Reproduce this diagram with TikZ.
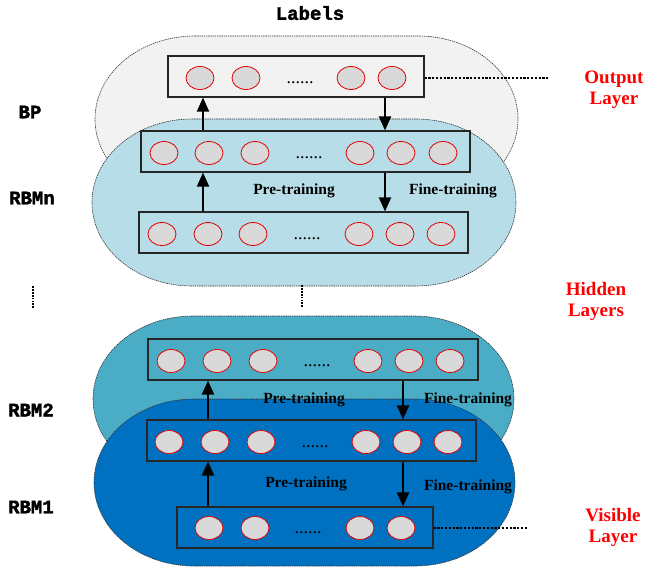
\documentclass[tikz,border=0pt]{standalone}
\usepackage{fontspec}
\setmainfont{Liberation Serif}
\setmonofont{Liberation Mono}[BoldFeatures={FakeBold=2}]
\usetikzlibrary{arrows.meta,shapes.geometric}
\definecolor{bpgray}{HTML}{F2F2F2}
\definecolor{rbmn}{HTML}{B7DDE8}
\definecolor{rbmtwo}{HTML}{4BACC6}
\definecolor{rbmone}{HTML}{0070C0}
\definecolor{cellfill}{HTML}{D9D9D9}
\definecolor{cellred}{HTML}{E00000}
\newcommand\myblob[5]{%
  \filldraw[blobline, fill=#5] (#1+100,#3) -- (#2-100,#3)
    arc[start angle=-90,end angle=90,x radius=100,y radius={(#4-#3)/2}]
    -- (#1+100,#4)
    arc[start angle=90,end angle=270,x radius=100,y radius={(#4-#3)/2}]
    -- cycle;}
\begin{document}
\begin{tikzpicture}[x=1pt,y=-1pt,
  blobline/.style={draw=black!80, line width=0.6pt, dash pattern=on 1.4pt off 0.8pt},
  layerbox/.style={draw=black!85, line width=1.1pt, rectangle, minimum height=41pt, inner sep=0pt},
  cell/.style={ellipse, draw=cellred, line width=0.8pt, fill=cellfill, minimum width=28pt, minimum height=23pt, inner sep=0pt},
  dotstxt/.style={font=\fontsize{18}{18}\selectfont, inner sep=0pt, yshift=-5pt},
  arr/.style={line width=2pt, -{Triangle[length=14pt,width=12pt]}},
  trainlbl/.style={font=\fontsize{15.5}{15.5}\bfseries\selectfont, inner sep=0pt},
  sidelbl/.style={font=\fontsize{19}{19}\ttfamily\bfseries\selectfont, inner sep=0pt},
  redlbl/.style={font=\fontsize{19}{21}\bfseries\selectfont, text=red, align=center, inner sep=0pt},
  leader/.style={line width=1.2pt, dash pattern=on 2.2pt off 1.6pt},
  vdots/.style={line width=2.4pt, dash pattern=on 1.8pt off 1.1pt}
]
\useasboundingbox (0,0) rectangle (648,568);
% blobs
\myblob{95}{518}{36}{202}{bpgray}
\myblob{92}{516}{119}{286}{rbmn}
\myblob{93}{514}{316}{482}{rbmtwo}
\myblob{94}{515}{399}{566}{rbmone}
% boxes
\node[layerbox, minimum width=256pt] (out) at (296,76.5) {};
\node[layerbox, minimum width=329pt] (ntop) at (305.5,151.5) {};
\node[layerbox, minimum width=329pt] (nbot) at (303.5,232.5) {};
\node[layerbox, minimum width=330pt] (htwo) at (313,359.5) {};
\node[layerbox, minimum width=329pt] (hone) at (311.5,440.5) {};
\node[layerbox, minimum width=256pt] (vis) at (305,527.5) {};
% cells
\foreach \x [count=\i] in {200,246,351,392} \node[cell] (o\i) at (\x,78) {};
\node[dotstxt] (od) at (300,78) {......};
\foreach \x [count=\i] in {164,209,255,360,401,443} \node[cell] (a\i) at (\x,153) {};
\node[dotstxt] (ad) at (309,153) {......};
\foreach \x [count=\i] in {162,208,253,359,400,441} \node[cell] (b\i) at (\x,234) {};
\node[dotstxt] (bd) at (307,234) {......};
\foreach \x [count=\i] in {171,217,263,368,409,450} \node[cell] (c\i) at (\x,361) {};
\node[dotstxt] (cd) at (317,361) {......};
\foreach \x [count=\i] in {169,215,261,366,407,448} \node[cell] (d\i) at (\x,442) {};
\node[dotstxt] (dd) at (315,442) {......};
\foreach \x [count=\i] in {209,255,360,401} \node[cell] (e\i) at (\x,528) {};
\node[dotstxt] (ed) at (308,528) {......};
% arrows
\draw[arr] ([xshift=-102.5pt]ntop.north) -- ([xshift=-93pt]out.south);
\draw[arr] ([xshift=89pt]out.south) -- ([xshift=79.5pt]ntop.north);
\draw[arr] ([xshift=-100.5pt]nbot.north) -- ([xshift=-102.5pt]ntop.south);
\draw[arr] ([xshift=79.5pt]ntop.south) -- ([xshift=81.5pt]nbot.north);
\draw[arr] ([xshift=-103.5pt]hone.north) -- ([xshift=-105pt]htwo.south);
\draw[arr] ([xshift=90pt]htwo.south) -- ([xshift=91.5pt]hone.north);
\draw[arr] ([xshift=-97pt]vis.north) -- ([xshift=-103.5pt]hone.south);
\draw[arr] ([xshift=91.5pt]hone.south) -- ([xshift=98pt]vis.north);
% training labels
\node[trainlbl] (p1) at (294,191) {Pre-training};
\node[trainlbl] (f1) at (453,191) {Fine-training};
\node[trainlbl] (p2) at (304,400) {Pre-training};
\node[trainlbl] (f2) at (468,400) {Fine-training};
\node[trainlbl] (p3) at (306,484) {Pre-training};
\node[trainlbl] (f3) at (468,487) {Fine-training};
% leaders
\coordinate (outend) at (549,78);
\coordinate (visend) at (527,528);
\draw[leader] (out.east |- o1) -- (outend);
\draw[leader] (vis.east |- e1) -- (visend);
\coordinate (vt1) at (302,285);
\coordinate (vb1) at (302,308);
\coordinate (vt2) at (33,286);
\coordinate (vb2) at (33,308);
\draw[vdots] (vt1) -- (vb1);
\draw[vdots] (vt2) -- (vb2);
% side labels
\node[sidelbl] (lab) at (310,13) {Labels};
\node[sidelbl] (bp) at (30,112) {BP};
\node[sidelbl] (rn) at (32,198) {RBMn};
\node[sidelbl] (r2) at (31,410) {RBM2};
\node[sidelbl] (r1) at (31,507) {RBM1};
\node[redlbl] (ol) at (614,89.5) {Output\\Layer};
\node[redlbl] (hl) at (596,301.5) {Hidden\\Layers};
\node[redlbl] (vl) at (613,527) {Visible\\Layer};
\end{tikzpicture}
\end{document}
